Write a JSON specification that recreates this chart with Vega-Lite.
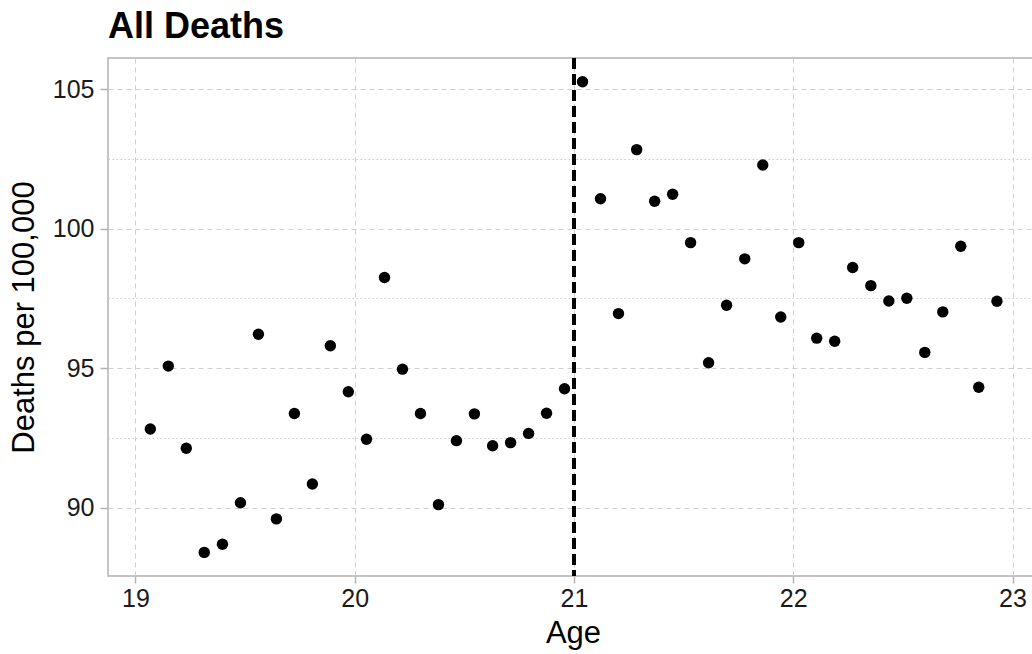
{
  "$schema": "https://vega.github.io/schema/vega-lite/v6.json",
  "autosize": {"type": "none"},
  "padding": {"left": 108, "top": 58, "right": 0, "bottom": 78},
  "width": 926,
  "height": 518,
  "background": "white",
  "title": {"text": "All Deaths", "anchor": "start", "frame": "group", "fontSize": 36, "fontWeight": "bold", "font": "Liberation Sans", "color": "#000000", "baseline": "bottom", "offset": 15, "dy": 40},
  "config": {
    "font": "Liberation Sans",
    "view": {"stroke": "#b3b3b3", "strokeWidth": 1.5}
  },
  "data": {"values": [
    {"age": 19.068, "deaths": 92.83},
    {"age": 19.150, "deaths": 95.08},
    {"age": 19.232, "deaths": 92.14},
    {"age": 19.314, "deaths": 88.41},
    {"age": 19.397, "deaths": 88.70},
    {"age": 19.479, "deaths": 90.19},
    {"age": 19.561, "deaths": 96.22},
    {"age": 19.643, "deaths": 89.61},
    {"age": 19.725, "deaths": 93.38},
    {"age": 19.807, "deaths": 90.86},
    {"age": 19.889, "deaths": 95.81},
    {"age": 19.971, "deaths": 94.16},
    {"age": 20.054, "deaths": 92.46},
    {"age": 20.136, "deaths": 98.25},
    {"age": 20.218, "deaths": 94.97},
    {"age": 20.300, "deaths": 93.38},
    {"age": 20.382, "deaths": 90.12},
    {"age": 20.464, "deaths": 92.41},
    {"age": 20.546, "deaths": 93.37},
    {"age": 20.629, "deaths": 92.23},
    {"age": 20.711, "deaths": 92.34},
    {"age": 20.793, "deaths": 92.67},
    {"age": 20.875, "deaths": 93.39},
    {"age": 20.957, "deaths": 94.27},
    {"age": 21.039, "deaths": 105.26},
    {"age": 21.121, "deaths": 101.07},
    {"age": 21.203, "deaths": 96.96},
    {"age": 21.286, "deaths": 102.83},
    {"age": 21.368, "deaths": 100.98},
    {"age": 21.450, "deaths": 101.23},
    {"age": 21.532, "deaths": 99.50},
    {"age": 21.614, "deaths": 95.20},
    {"age": 21.696, "deaths": 97.26},
    {"age": 21.779, "deaths": 98.92},
    {"age": 21.861, "deaths": 102.28},
    {"age": 21.943, "deaths": 96.84},
    {"age": 22.025, "deaths": 99.50},
    {"age": 22.107, "deaths": 96.08},
    {"age": 22.189, "deaths": 95.97},
    {"age": 22.271, "deaths": 98.61},
    {"age": 22.354, "deaths": 97.96},
    {"age": 22.436, "deaths": 97.41},
    {"age": 22.518, "deaths": 97.51},
    {"age": 22.600, "deaths": 95.57},
    {"age": 22.682, "deaths": 97.02},
    {"age": 22.764, "deaths": 99.37},
    {"age": 22.846, "deaths": 94.32},
    {"age": 22.929, "deaths": 97.40}
  ]},
  "layer": [
    {
      "mark": {"type": "point", "filled": true, "color": "#000000", "opacity": 1, "size": 130},
      "encoding": {
        "x": {
          "field": "age", "type": "quantitative",
          "scale": {"domain": [18.875, 23.098], "nice": false, "zero": false},
          "axis": {
            "title": "Age",
            "values": [19, 19.5, 20, 20.5, 21, 21.5, 22, 22.5, 23],
            "format": "d",
            "labelExpr": "datum.value % 1 === 0 ? datum.label : ''",
            "domain": false,
            "grid": true,
            "gridColor": "#cfcfcf",
            "gridWidth": 1,
            "gridDash": {"condition": {"test": "datum.value % 1 === 0", "value": [5, 4]}, "value": [1.5, 2.5]},
            "ticks": true,
            "tickColor": "#b3b3b3",
            "tickWidth": 1.5,
            "tickSize": {"condition": {"test": "datum.value % 1 === 0", "value": 7}, "value": 0},
            "labelFontSize": 25,
            "labelColor": "#1a1a1a",
            "labelPadding": 3,
            "labelFlush": false,
            "titleFontSize": 31,
            "titleFontWeight": "normal",
            "titleColor": "#000000",
            "titlePadding": 7,
            "titleX": 465
          }
        },
        "y": {
          "field": "deaths", "type": "quantitative",
          "scale": {"domain": [87.565, 106.11], "nice": false, "zero": false},
          "axis": {
            "title": "Deaths per 100,000",
            "values": [90, 92.5, 95, 97.5, 100, 102.5, 105],
            "format": "d",
            "labelExpr": "datum.value % 5 === 0 ? datum.label : ''",
            "domain": false,
            "grid": true,
            "gridColor": "#cfcfcf",
            "gridWidth": 1,
            "gridDash": {"condition": {"test": "datum.value % 5 === 0", "value": [5, 4]}, "value": [1.5, 2.5]},
            "ticks": true,
            "tickColor": "#b3b3b3",
            "tickWidth": 1.5,
            "tickSize": {"condition": {"test": "datum.value % 5 === 0", "value": 8}, "value": 0},
            "labelFontSize": 25,
            "labelColor": "#1a1a1a",
            "labelPadding": 6,
            "titleFontSize": 31,
            "titleFontWeight": "normal",
            "titleColor": "#000000",
            "titlePadding": 12
          }
        }
      }
    },
    {
      "mark": {"type": "rule", "color": "#000000", "strokeWidth": 2.5, "strokeDash": [11, 5]},
      "encoding": {"x": {"datum": 21}}
    }
  ]
}
